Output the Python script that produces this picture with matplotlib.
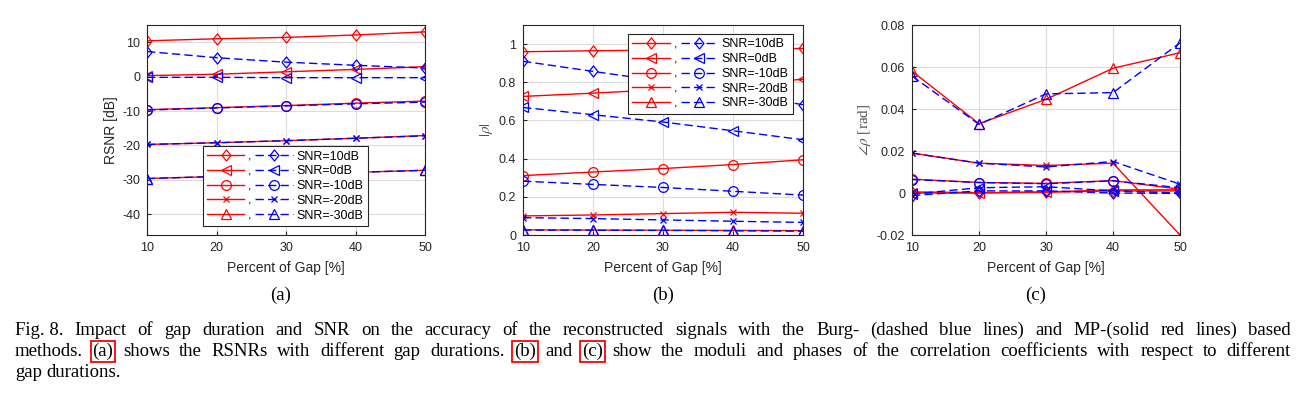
import numpy as np
import matplotlib
matplotlib.use('Agg')
import matplotlib.pyplot as plt
from matplotlib.path import Path

plt.rcParams['font.family'] = ['Liberation Sans', 'DejaVu Sans']
plt.rcParams['mathtext.fontset'] = 'stix'

gap = [10, 20, 30, 40, 50]
snr_labels = ['SNR=10dB', 'SNR=0dB', 'SNR=-10dB', 'SNR=-20dB', 'SNR=-30dB']

# (a) RSNR [dB]
mp_rsnr = [
    [10.4, 11.0, 11.4, 12.1, 13.0],
    [0.3, 0.7, 1.4, 2.1, 2.9],
    [-9.6, -9.0, -8.4, -7.7, -7.1],
    [-19.7, -19.2, -18.6, -17.9, -17.1],
    [-29.6, -29.0, -28.4, -27.8, -27.2],
]
burg_rsnr = [
    [7.3, 5.5, 4.2, 3.3, 2.5],
    [-0.2, -0.2, -0.3, -0.3, -0.3],
    [-9.7, -9.1, -8.5, -7.9, -7.4],
    [-19.7, -19.2, -18.6, -17.9, -17.2],
    [-29.6, -29.0, -28.4, -27.8, -27.2],
]

# (b) |rho|
mp_mod = [
    [0.960, 0.965, 0.969, 0.973, 0.977],
    [0.726, 0.743, 0.762, 0.786, 0.816],
    [0.311, 0.330, 0.348, 0.369, 0.394],
    [0.100, 0.105, 0.112, 0.119, 0.114],
    [0.027, 0.026, 0.025, 0.024, 0.023],
]
burg_mod = [
    [0.910, 0.857, 0.805, 0.750, 0.682],
    [0.668, 0.630, 0.592, 0.546, 0.499],
    [0.282, 0.265, 0.249, 0.229, 0.209],
    [0.091, 0.086, 0.079, 0.072, 0.066],
    [0.026, 0.025, 0.024, 0.022, 0.020],
]

# (c) angle rho [rad]
mp_phase = [
    [0.0005, 0.0002, 0.0004, 0.0010, 0.0010],
    [0.0000, 0.0000, 0.0005, 0.0015, 0.0015],
    [0.0066, 0.0050, 0.0046, 0.0059, 0.0018],
    [0.0190, 0.0142, 0.0131, 0.0142, -0.0200],
    [0.0580, 0.0330, 0.0446, 0.0594, 0.0668],
]
burg_phase = [
    [-0.0012, 0.0010, 0.0010, 0.0000, -0.0002],
    [-0.0005, 0.0025, 0.0030, 0.0010, 0.0000],
    [0.0064, 0.0050, 0.0044, 0.0058, 0.0025],
    [0.0190, 0.0142, 0.0124, 0.0150, 0.0042],
    [0.0557, 0.0327, 0.0472, 0.0478, 0.0715],
]

# matlab-like diamond (a bit wider than mpl 'd')
diamond = Path([(0, 1), (0.8, 0), (0, -1), (-0.8, 0), (0, 1)],
               [Path.MOVETO, Path.LINETO, Path.LINETO, Path.LINETO, Path.CLOSEPOLY])
markers = [diamond, '<', 'o', 'x', '^']
msizes = [8, 7, 7, 5, 7.5]

W, H = 1309, 399
fig = plt.figure(figsize=(W / 100, H / 100), dpi=100)
dark = '#262626'


def px_axes(left, right, top, bottom):
    return fig.add_axes([left / W, 1 - bottom / H, (right - left) / W, (bottom - top) / H])


def draw_panel(ax, mp, burg, ylim, yticks, yticklabels):
    for vals, m, ms in zip(mp, markers, msizes):
        ax.plot(gap, vals, color='red', lw=1.0, marker=m, ms=ms, mfc='none',
                mew=0.9, label=',')
    for vals, m, ms, lab in zip(burg, markers, msizes, snr_labels):
        ax.plot(gap, vals, color='blue', lw=1.0, ls=(0, (6, 3)), marker=m, ms=ms,
                mfc='none', mew=0.9, label=lab)
    ax.set_xlim(10, 50)
    ax.set_xticks(gap)
    ax.set_ylim(*ylim)
    ax.set_yticks(yticks)
    ax.set_yticklabels(yticklabels)
    ax.grid(True, color='#dcdcdc', lw=0.8)
    ax.set_axisbelow(True)
    ax.tick_params(direction='in', length=3, labelsize=9, colors=dark, pad=5)
    for s in ax.spines.values():
        s.set_color(dark)
        s.set_linewidth(0.8)
    ax.set_xlabel('Percent of Gap [%]', fontsize=10, color=dark, labelpad=5)
    return ax


ax1 = px_axes(147, 425, 25, 235)
draw_panel(ax1, mp_rsnr, burg_rsnr, (-46, 15), [-40, -30, -20, -10, 0, 10],
           ['-40', '-30', '-20', '-10', '0', '10'])
ax1.set_ylabel('RSNR [dB]', fontsize=10, color=dark, labelpad=3)

ax2 = px_axes(523, 803, 25, 235)
draw_panel(ax2, mp_mod, burg_mod, (0, 1.1), [0, 0.2, 0.4, 0.6, 0.8, 1.0],
           ['0', '0.2', '0.4', '0.6', '0.8', '1'])
ax2.set_ylabel(r'$|\rho|$', fontsize=11, color='#555555', labelpad=3)

ax3 = px_axes(912, 1180, 25, 235)
draw_panel(ax3, mp_phase, burg_phase, (-0.02, 0.08),
           [-0.02, 0, 0.02, 0.04, 0.06, 0.08],
           ['-0.02', '0', '0.02', '0.04', '0.06', '0.08'])
ax3.set_ylabel(r'$\angle\rho$ [rad]', fontsize=11, color='#555555', labelpad=3,
               family='Liberation Serif')

leg_kw = dict(ncol=2, fontsize=9, handlelength=3.0, handletextpad=0.3,
              columnspacing=0.3, labelspacing=0.22, borderpad=0.35,
              fancybox=False, framealpha=1, edgecolor=dark, borderaxespad=0)
lg1 = ax1.legend(loc='lower left', bbox_to_anchor=(0.2, 0.043), **leg_kw)
lg2 = ax2.legend(loc='upper right', bbox_to_anchor=(0.965, 0.957), **leg_kw)
for lg in (lg1, lg2):
    lg.get_frame().set_linewidth(0.8)

# sub captions
serif = 'Liberation Serif'
for x, s in [(281, '(a)'), (663, '(b)'), (1036, '(c)')]:
    fig.text(x / W, 1 - 295 / H, s, ha='center', va='center', fontsize=13.5, family=serif)

# justified caption
cap_size = 13.5
lines = [
    ['Fig. 8.', 'Impact', 'of', 'gap', 'duration', 'and', 'SNR', 'on', 'the', 'accuracy', 'of',
     'the', 'reconstructed', 'signals', 'with', 'the', 'Burg-', '(dashed', 'blue', 'lines)',
     'and', 'MP-(solid', 'red', 'lines)', 'based'],
    ['methods.', '(a)', 'shows', 'the', 'RSNRs', 'with', 'different', 'gap', 'durations.',
     '(b)', 'and', '(c)', 'show', 'the', 'moduli', 'and', 'phases', 'of', 'the', 'correlation',
     'coefficients', 'with', 'respect', 'to', 'different'],
    ['gap', 'durations.'],
]
baselines = [335, 356, 377]
x_left, x_right = 15, 1291
boxed = {'(a)', '(b)', '(c)'}
renderer = fig.canvas.get_renderer()
for li, (words, yb) in enumerate(zip(lines, baselines)):
    texts = []
    for w in words:
        t = fig.text(0, 1 - yb / H, w, ha='left', va='baseline', fontsize=cap_size, family=serif)
        if w in boxed:
            t.set_bbox(dict(boxstyle='square,pad=0.1', fc='none', ec='red', lw=1.3))
        texts.append(t)
    widths = [t.get_window_extent(renderer).width for t in texts]
    if li < len(lines) - 1:
        gap_px = (x_right - x_left - sum(widths)) / (len(words) - 1)
    else:
        two = fig.text(0, 0, 'a a', fontsize=cap_size, family=serif)
        one = fig.text(0, 0, 'aa', fontsize=cap_size, family=serif)
        gap_px = two.get_window_extent(renderer).width - one.get_window_extent(renderer).width
        two.remove()
        one.remove()
    x = x_left
    for t, w in zip(texts, widths):
        t.set_x(x / W)
        x += w + gap_px

fig.savefig('out.png', dpi=100)
